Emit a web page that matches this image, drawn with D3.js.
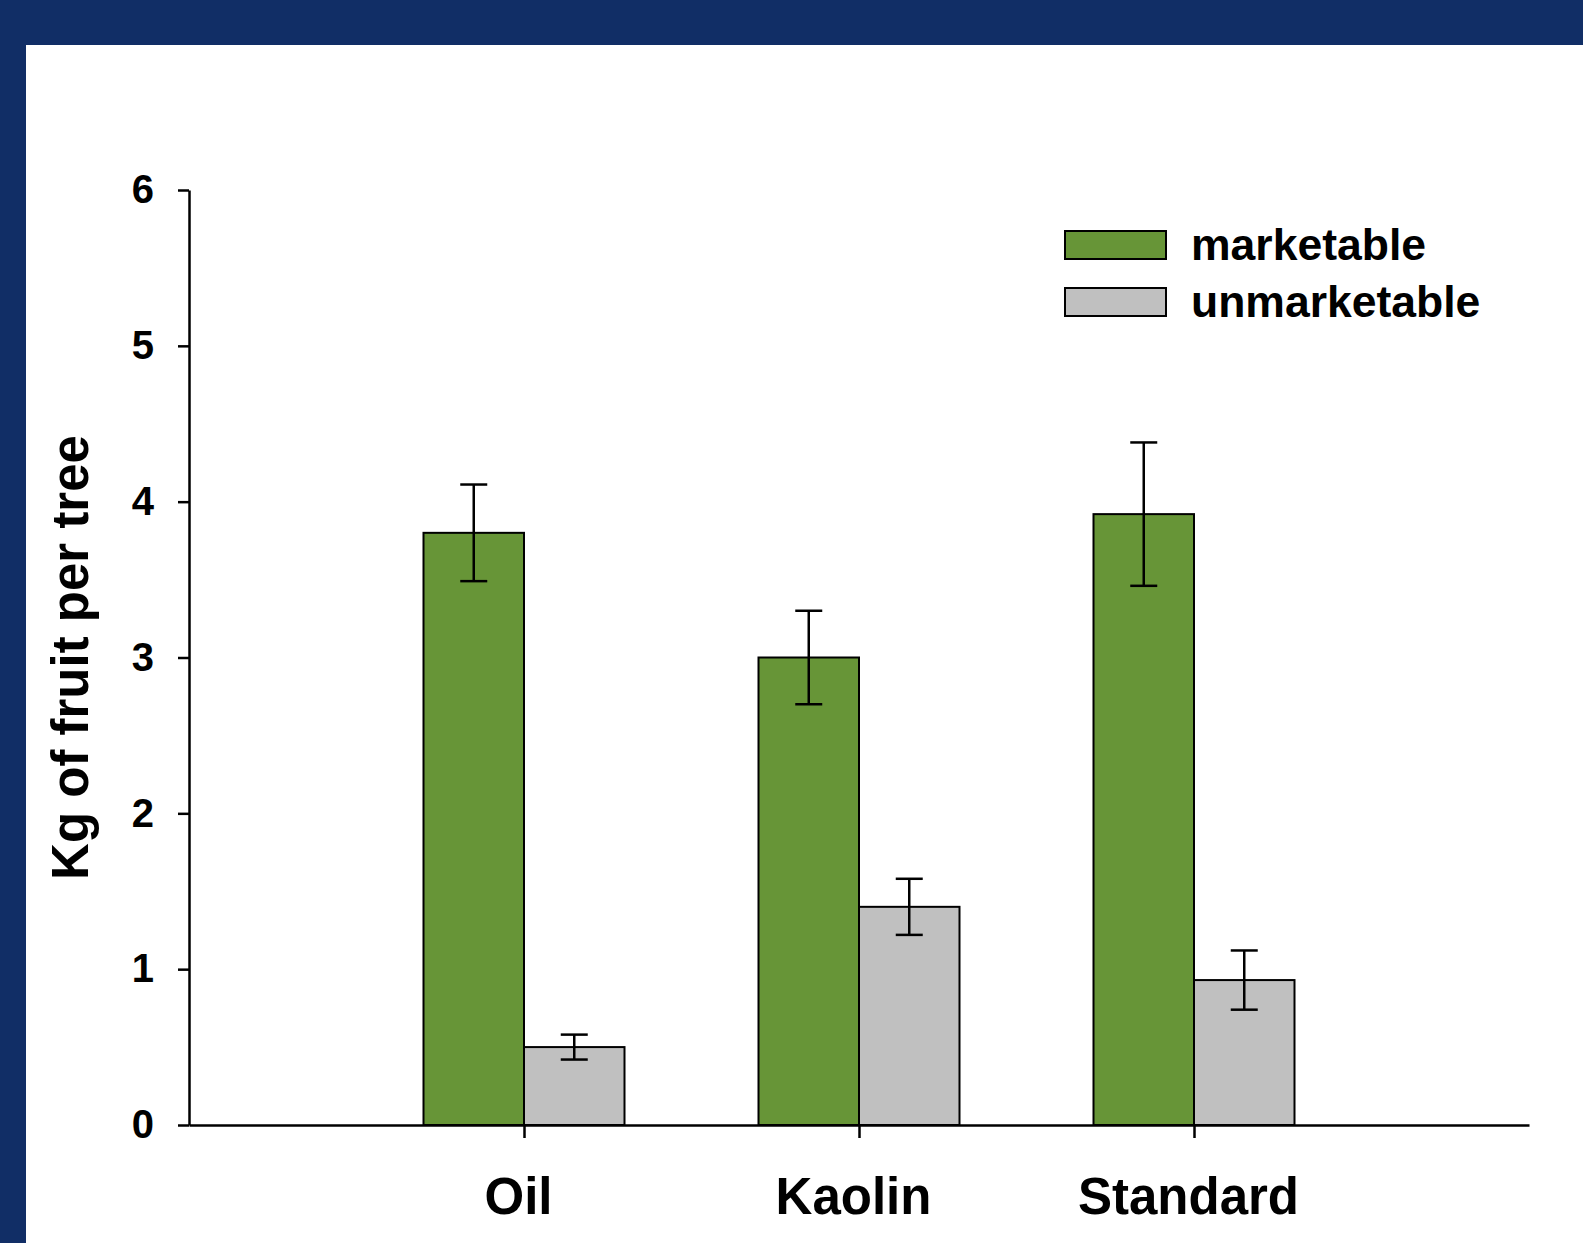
<!DOCTYPE html>
<html>
<head>
<meta charset="utf-8">
<script src="https://cdn.jsdelivr.net/npm/d3@7"></script>
<style>
  html, body { margin: 0; padding: 0; background: #ffffff; }
  svg { display: block; }
  text { font-family: "Liberation Sans", Arial, Helvetica, sans-serif; font-weight: bold; fill: #000; }
</style>
</head>
<body>
<script>
// Fruit yield per tree by treatment
const categories = ["Oil", "Kaolin", "Standard"];
const seriesNames = ["marketable", "unmarketable"];
const marketable = [3.80, 3.00, 3.92];
const marketableErr = [0.31, 0.30, 0.46];
const unmarketable = [0.50, 1.40, 0.93];
const unmarketableErr = [0.08, 0.18, 0.19];
const yTicks = [0, 1, 2, 3, 4, 5, 6];

const W = 1583, H = 1243;
const colors = { marketable: "#679537", unmarketable: "#c0c0c0" };

const svg = d3.select("body").append("svg")
  .attr("width", W).attr("height", H);

// page frame
svg.append("rect").attr("width", W).attr("height", H).attr("fill", "#ffffff");
svg.append("rect").attr("x", 0).attr("y", 0).attr("width", W).attr("height", 45).attr("fill", "#112e66");
svg.append("rect").attr("x", 0).attr("y", 0).attr("width", 26).attr("height", H).attr("fill", "#112e66");

// categories sit at 1, 2, 3 on a 0..4 axis
const x = d3.scaleLinear().domain([0, 4]).range([189, 1529]);
const y = d3.scaleLinear().domain([0, 6]).range([1125, 190]);
const barW = 0.3;

const rows = categories.map((c, i) => ({
  cat: c, pos: i + 1,
  bars: [
    { key: "marketable", v: marketable[i], e: marketableErr[i], x0: i + 1 - barW, x1: i + 1 },
    { key: "unmarketable", v: unmarketable[i], e: unmarketableErr[i], x0: i + 1, x1: i + 1 + barW }
  ]
}));
const allBars = rows.flatMap(r => r.bars);

// bars
svg.append("g").selectAll("rect").data(allBars).join("rect")
  .attr("x", d => x(d.x0))
  .attr("y", d => y(d.v))
  .attr("width", d => x(d.x1) - x(d.x0))
  .attr("height", d => y(0) - y(d.v))
  .attr("fill", d => colors[d.key])
  .attr("stroke", "#000")
  .attr("stroke-width", 2);

// error bars
const capHalf = 13.5;
const eb = svg.append("g").attr("stroke", "#000").attr("stroke-width", 2.5);
allBars.forEach(d => {
  const cx = x((d.x0 + d.x1) / 2);
  eb.append("line").attr("x1", cx).attr("x2", cx).attr("y1", y(d.v - d.e)).attr("y2", y(d.v + d.e));
  eb.append("line").attr("x1", cx - capHalf).attr("x2", cx + capHalf).attr("y1", y(d.v + d.e)).attr("y2", y(d.v + d.e));
  eb.append("line").attr("x1", cx - capHalf).attr("x2", cx + capHalf).attr("y1", y(d.v - d.e)).attr("y2", y(d.v - d.e));
});

// y axis
const yAxis = svg.append("g").attr("transform", `translate(${x(0)},0)`)
  .call(d3.axisLeft(y).tickValues(yTicks).tickFormat(d3.format("d")).tickSize(11).tickSizeOuter(0).tickPadding(24));
yAxis.selectAll("path, line").attr("stroke", "#000").attr("stroke-width", 2.5);
yAxis.selectAll("text").attr("font-size", 40).attr("font-family", null).style("font-weight", "bold");

// x axis
const xAxis = svg.append("g").attr("transform", `translate(0,${y(0)})`)
  .call(d3.axisBottom(x).tickValues(rows.map(r => r.pos)).tickFormat((d, i) => categories[i]).tickSize(13).tickSizeOuter(0));
xAxis.selectAll("path, line").attr("stroke", "#000").attr("stroke-width", 2.5);
xAxis.selectAll("text").attr("font-size", 51).attr("font-family", null)
  .attr("y", 89).attr("dy", 0).attr("dx", -6);

// y axis title
svg.append("text")
  .attr("transform", `translate(88,${(y(0) + y(6)) / 2}) rotate(-90)`)
  .attr("text-anchor", "middle")
  .attr("font-size", 51)
  .text("Kg of fruit per tree");

// legend
const legend = svg.append("g");
seriesNames.forEach((s, i) => {
  const top = 231 + i * 57;
  legend.append("rect").attr("x", 1065).attr("y", top).attr("width", 101).attr("height", 28)
    .attr("fill", colors[s]).attr("stroke", "#000").attr("stroke-width", 2);
  legend.append("text").attr("x", 1191).attr("y", top + 29).attr("font-size", 44.5).text(s);
});
</script>
</body>
</html>
